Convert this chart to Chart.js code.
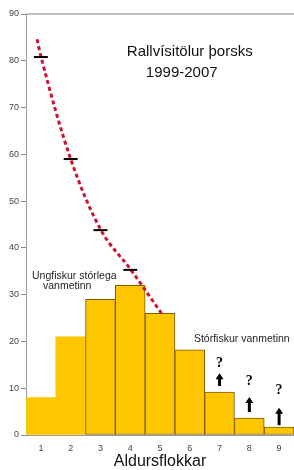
<!DOCTYPE html>
<html>
<head>
<meta charset="utf-8">
<script src="https://cdn.jsdelivr.net/npm/chart.js@4/dist/chart.umd.min.js"></script>
<style>
  html, body { margin: 0; padding: 0; background: #fff; }
  #wrap { width: 294px; height: 470px; }
</style>
</head>
<body>
<div id="wrap"><canvas id="chart"></canvas></div>
<script>
// aldursflokkar og vísitölur
const ages = [1, 2, 3, 4, 5, 6, 7, 8, 9];
const indexBars = [8, 21, 29, 32, 26, 18.2, 9.2, 3.6, 1.7];

// svartar línur (mæld vísitala eldri ára)
const markAges = [1, 2, 3, 4];
const markValues = [80.8, 59, 43.8, 35.3];

// rauður ferill
const curveX = [0.87, 1, 2, 3, 4, 5.05];
const curveY = [84.6, 81, 59, 44, 35.5, 26];

// spurningarmerki og örvar
const arrowAges = [7, 8, 9];
const arrowLow = [10.5, 4.9, 2.1];
const arrowHigh = [13.2, 8.1, 5.8];
const questionY = [15.4, 11.5, 9.6];

const yTicks = [0, 10, 20, 30, 40, 50, 60, 70, 80, 90];

const pts = (xs, ys) => xs.map((x, i) => ({ x: x, y: ys[i] }));

const extras = {
  id: 'extras',
  afterDatasetsDraw(chart) {
    const c = chart.ctx, a = chart.chartArea;
    const x = chart.scales.x, y = chart.scales.y;
    c.save();
    // toppramminn
    c.strokeStyle = '#aaa';
    c.lineWidth = 1.5;
    c.beginPath();
    c.moveTo(a.left, a.top);
    c.lineTo(chart.width, a.top);
    c.stroke();

    // titill
    c.fillStyle = '#111';
    c.textAlign = 'center';
    c.textBaseline = 'middle';
    c.font = '15px "Liberation Sans", Arial, sans-serif';
    c.fillText('Rallvísitölur þorsks', x.getPixelForValue(6.0), y.getPixelForValue(81.8));
    c.fillText('1999-2007', x.getPixelForValue(5.73), y.getPixelForValue(77.4));

    // skýringar
    c.fillStyle = '#222';
    c.textAlign = 'left';
    c.font = '10.5px "Liberation Sans", Arial, sans-serif';
    c.fillText('Ungfiskur stórlega', x.getPixelForValue(0.7), y.getPixelForValue(34));
    c.fillText('vanmetinn', x.getPixelForValue(1.07), y.getPixelForValue(31.8));
    c.fillText('Stórfiskur vanmetinn', x.getPixelForValue(6.14), y.getPixelForValue(20.5));

    // örvar og ?
    arrowAges.forEach((age, i) => {
      const px = x.getPixelForValue(age);
      const top = y.getPixelForValue(arrowHigh[i]);
      const bot = y.getPixelForValue(arrowLow[i]);
      c.fillStyle = '#000';
      c.beginPath();
      c.moveTo(px, top);
      c.lineTo(px - 4, top + 6);
      c.lineTo(px + 4, top + 6);
      c.closePath();
      c.fill();
      c.fillRect(px - 1.5, top + 5, 3, bot - top - 5);
      c.textAlign = 'center';
      c.font = 'bold 14px "Liberation Serif", serif';
      c.fillText('?', px, y.getPixelForValue(questionY[i]));
    });
    c.restore();
  }
};

new Chart(document.getElementById('chart'), {
  type: 'bar',
  data: {
    datasets: [
      {
        type: 'line',
        data: pts(markAges, markValues),
        showLine: false,
        pointStyle: 'line',
        pointRadius: 7,
        pointBorderWidth: 2,
        pointBorderColor: '#000',
        order: 1
      },
      {
        type: 'line',
        data: pts(curveX, curveY),
        borderColor: '#cc1236',
        borderWidth: 3,
        borderDash: [4, 3],
        pointRadius: 0,
        cubicInterpolationMode: 'monotone',
        fill: false,
        order: 2
      },
      {
        data: pts(ages, indexBars),
        backgroundColor: '#fdc600',
        borderColor: '#7a5e00',
        borderWidth: [0, 0, 1, 1, 1, 1, 1, 1, 1],
        borderSkipped: false,
        barPercentage: 1,
        categoryPercentage: 1,
        order: 3
      }
    ]
  },
  options: {
    responsive: true,
    maintainAspectRatio: false,
    animation: false,
    layout: { autoPadding: false, padding: { top: 14, right: 0, left: 0, bottom: 0 } },
    plugins: { legend: { display: false }, tooltip: { enabled: false } },
    scales: {
      x: {
        type: 'linear',
        offset: false,
        min: 0.5,
        max: 9.5,
        afterBuildTicks: s => { s.ticks = ages.map(v => ({ value: v })); },
        afterFit: s => { s.height = 35; },
        grid: { display: false, drawTicks: false },
        border: { display: true, color: '#999' },
        ticks: {
          padding: 8,
          color: '#444',
          font: { family: '"Liberation Sans", Arial, sans-serif', size: 9 }
        },
        title: {
          display: true,
          text: 'Aldursflokkar',
          color: '#111',
          padding: { top: 0, bottom: 0 },
          font: { family: '"Liberation Sans", Arial, sans-serif', size: 16, lineHeight: 1 }
        }
      },
      y: {
        min: 0,
        max: 90,
        afterBuildTicks: s => { s.ticks = yTicks.map(v => ({ value: v })); },
        afterFit: s => { s.width = 26; },
        grid: { drawOnChartArea: false, color: '#888', tickLength: 5 },
        border: { display: true, color: '#999' },
        ticks: {
          padding: 2,
          color: '#444',
          font: { family: '"Liberation Sans", Arial, sans-serif', size: 9 }
        }
      }
    }
  },
  plugins: [extras]
});
</script>
</body>
</html>
